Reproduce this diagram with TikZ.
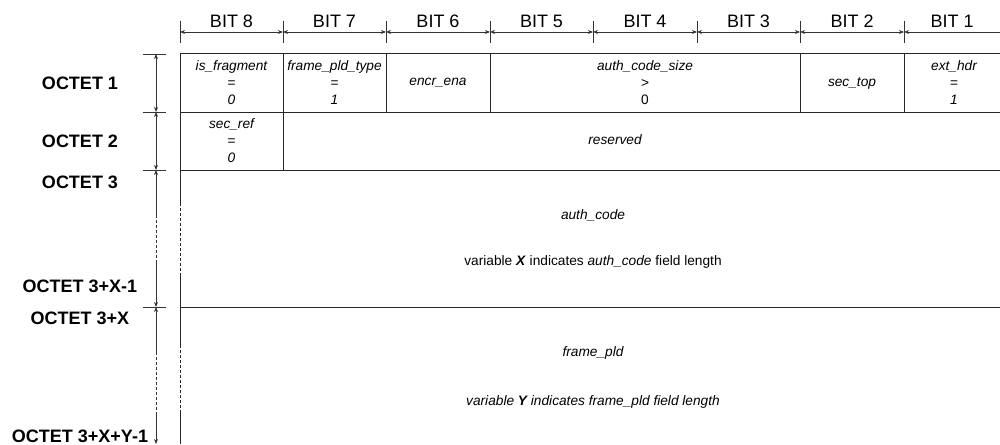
\documentclass[tikz,border=0pt]{standalone}
\usepackage{fontspec}
\setmainfont{Liberation Sans}
\usetikzlibrary{arrows.meta}
\begin{document}
\begin{tikzpicture}[x=1pt,y=-1pt,
  ln/.style={line width=1pt,draw=black!85},
  dimln/.style={line width=0.9pt,draw=black!80},
  tip/.style={-{Stealth[length=5pt,width=4pt]}},
  dsh/.style={dash pattern=on 3pt off 2pt},
  bitlbl/.style={font=\fontsize{18}{20}\selectfont,inner sep=0pt},
  octlbl/.style={font=\fontsize{18}{20}\selectfont\bfseries,inner sep=0pt},
  fld/.style={font=\fontsize{13.7}{17}\selectfont\itshape,align=center,inner sep=0pt},
  txt/.style={font=\fontsize{13.7}{17}\selectfont,inner sep=0pt}]
\useasboundingbox (0,0) rectangle (1000,444);

% ---- bit header ----
\foreach \n/\x in {a/180,b/283,c/386,d/490,e/593,f/697,g/800,h/904}{
  \coordinate (t\n) at (\x,32);
  \draw[dimln] (\x,21) -- (\x,43);
}
\coordinate (ti) at (1000,32);
\foreach \p/\q in {a/b,b/c,c/d,d/e,e/f,f/g,g/h}{
  \draw[dimln,{Stealth[length=5pt,width=4pt]}-{Stealth[length=5pt,width=4pt]}] (t\p) -- (t\q);
}
\draw[dimln,{Stealth[length=5pt,width=4pt]}-] (th) -- (ti);
\foreach \n/\x/\t in {b8/231.5/8,b7/334.5/7,b6/438/6,b5/541.5/5,b4/645/4,b3/748.5/3,b2/852/2,b1/952/1}{
  \node[bitlbl] (\n) at (\x,21) {BIT \t};
}

% ---- table lines ----
\foreach \n/\y in {r0/54,r1/112,r2/170,r3/307}{
  \coordinate (\n L) at (180,\y);
  \coordinate (\n R) at (1000,\y);
  \draw[ln] (\n L) -- (\n R);
}
\foreach \x in {283,386,490,800,904}{
  \draw[ln] (\x,54) -- (\x,112);
}
\draw[ln] (283,112) -- (283,170);
% left border
\draw[ln] (180,54) -- (180,203);
\draw[ln,dsh] (180,203) -- (180,273);
\draw[ln] (180,273) -- (180,345);
\draw[ln,dsh] (180,345) -- (180,413);
\draw[ln] (180,413) -- (180,444);

% ---- octet dimension line ----
\foreach \y in {54,112,170,307}{
  \draw[dimln] (143,\y) -- (166,\y);
}
\coordinate (d0) at (156,54);
\coordinate (d1) at (156,112);
\coordinate (d2) at (156,170);
\coordinate (d3) at (156,307);
\coordinate (d4) at (156,444);
\draw[dimln,{Stealth[length=5pt,width=4pt]}-{Stealth[length=5pt,width=4pt]}] (d0) -- (d1);
\draw[dimln,{Stealth[length=5pt,width=4pt]}-{Stealth[length=5pt,width=4pt]}] (d1) -- (d2);
\draw[dimln,{Stealth[length=5pt,width=4pt]}-] (d2) -- (156,215);
\draw[dimln,dsh] (156,215) -- (156,260);
\draw[dimln,tip] (156,260) -- (d3);
\draw[dimln,{Stealth[length=5pt,width=4pt]}-] (d3) -- (156,352);
\draw[dimln,dsh] (156,352) -- (156,413);
\draw[dimln,tip] (156,413) -- (d4);

% ---- octet labels ----
\node[octlbl] (o1) at (80,83) {OCTET 1};
\node[octlbl] (o2) at (80,141) {OCTET 2};
\node[octlbl] (o3) at (80,182) {OCTET 3};
\node[octlbl] (o4) at (80,286) {OCTET 3+X-1};
\node[octlbl] (o5) at (80,318) {OCTET 3+X};
\node[octlbl] (o6) at (80,436) {OCTET 3+X+Y-1};

% ---- fields ----
\node[fld] (isfrag) at (231.5,83) {is\_fragment\\\upshape=\\0};
\node[fld] (fpt) at (334.5,83) {frame\_pld\_type\\\upshape=\\1};
\node[fld] (encr) at (438,83) {encr\_ena};
\node[fld] (acs) at (645,83) {auth\_code\_size\\\upshape{>}\\\upshape 0};
\node[fld] (sectop) at (852,83) {sec\_top};
\node[fld] (exth) at (954,83) {ext\_hdr\\\upshape=\\1};
\node[fld] (secref) at (231.5,141) {sec\_ref\\\upshape=\\0};
\node[fld] (resv) at (615,140) {reserved};
\node[fld] (ac) at (593,215) {auth\_code};
\node[txt] (acn) at (593,262) {variable \textbf{\textit{X}} indicates \textit{auth\_code} field length};
\node[fld] (fp) at (593,353) {frame\_pld};
\node[fld] (fpn) at (593,402) {variable \textbf{Y} indicates frame\_pld field length};
\end{tikzpicture}
\end{document}
